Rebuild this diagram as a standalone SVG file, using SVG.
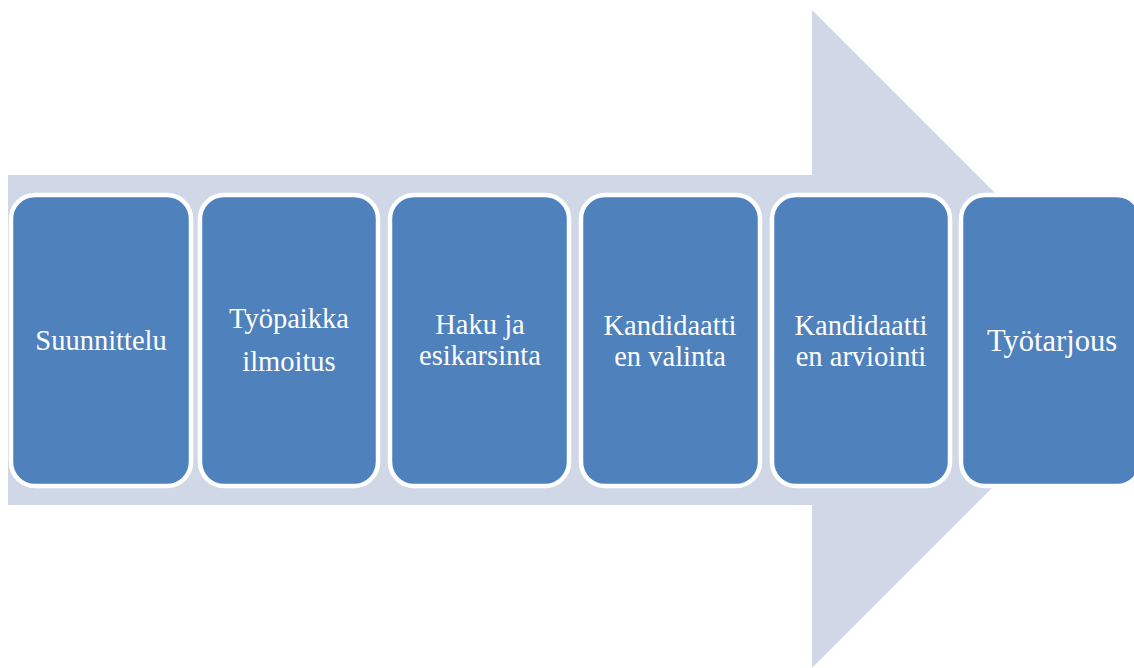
<svg xmlns="http://www.w3.org/2000/svg" width="1134" height="668" viewBox="0 0 1134 668">
<style>
.box{fill:#4F81BD;stroke:#FFFFFF;stroke-width:4.5}
.t{font-family:"Liberation Serif","Times New Roman",serif;font-size:28.5px;fill:#FFFFFF;text-anchor:middle}
</style>
<rect width="1134" height="668" fill="#FFFFFF"/>
<g id="arrow">
<polygon points="8,175 812,175 812,10 1141,339 812,668 812,505 8,505" fill="#D0D8E8"/>
</g>
<g id="connectors"></g>
<g id="n1"><rect class="box" x="11" y="195" width="180" height="291" rx="24"/><text class="t" x="101" y="350">Suunnittelu</text></g>
<g id="n2"><rect class="box" x="200" y="195" width="178" height="291" rx="24"/><text class="t" x="289" y="328">Työpaikka</text><text class="t" x="289" y="371">ilmoitus</text></g>
<g id="n3"><rect class="box" x="390" y="195" width="179" height="291" rx="24"/><text class="t" x="480" y="334">Haku ja</text><text class="t" x="480" y="365">esikarsinta</text></g>
<g id="n4"><rect class="box" x="581" y="195" width="179" height="291" rx="24"/><text class="t" x="670" y="335">Kandidaatti</text><text class="t" x="670" y="366">en valinta</text></g>
<g id="n5"><rect class="box" x="772" y="195" width="178" height="291" rx="24"/><text class="t" x="861" y="335">Kandidaatti</text><text class="t" x="861" y="366">en arviointi</text></g>
<g id="n6"><rect class="box" x="961" y="195" width="180" height="291" rx="24"/><text class="t" x="1052" y="351" style="font-size:30.5px">Työtarjous</text></g>
</svg>
